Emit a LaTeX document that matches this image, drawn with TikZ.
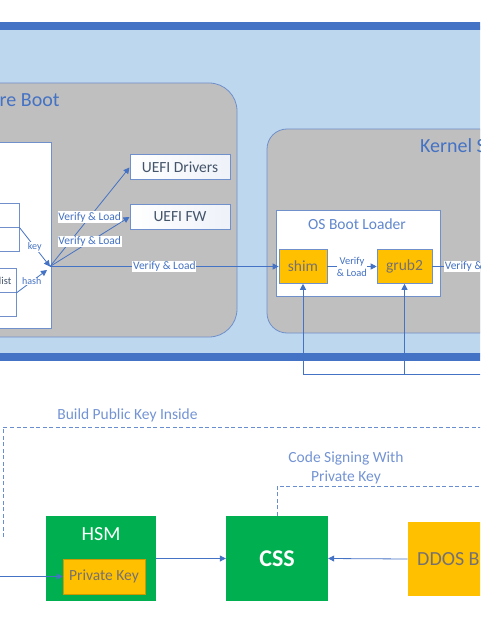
\documentclass[tikz,border=0pt]{standalone}
\usepackage{fontspec}
\setmainfont{Carlito}
\usetikzlibrary{arrows.meta,positioning}
\definecolor{band}{HTML}{4472C4}
\definecolor{light}{HTML}{BDD7EE}
\definecolor{grayf}{HTML}{BFBFBF}
\definecolor{bord}{HTML}{7090CC}
\definecolor{grn}{HTML}{00B050}
\definecolor{orng}{HTML}{FFC000}
\definecolor{txtg}{HTML}{767171}
\definecolor{txtu}{HTML}{44546A}
\definecolor{dtx}{HTML}{7393D3}
\tikzset{
  gbox/.style={draw=bord, fill=grayf, line width=0.8pt},
  wbox/.style={draw=bord, fill=white, line width=0.8pt},
  rowbox/.style={draw=bord, fill=white, line width=0.8pt, minimum height=24pt},
  uefi/.style={draw=bord, line width=1pt, left color=white, right color=white!88!bord,
    minimum width=100pt, minimum height=25pt, text=txtu, font=\fontsize{15.5}{18}\selectfont},
  ybox/.style={draw=bord, fill=orng, line width=0.6pt, text=txtg, font=\fontsize{15.5}{18}\selectfont},
  gnbox/.style={fill=grn, text=white},
  ttl/.style={text=band, inner sep=0pt, font=\fontsize{20}{24}\selectfont},
  line/.style={draw=band, line width=0.8pt},
  arr/.style={line, -{Triangle[length=6pt,width=6pt]}},
  lbl/.style={fill=white, inner sep=0.6pt, text=band, font=\fontsize{11.5}{13}\selectfont},
  klbl/.style={fill=white, inner sep=0.4pt, text=band, font=\fontsize{10}{12}\selectfont},
  dline/.style={draw=band!80, line width=0.9pt, dash pattern=on 4pt off 2.5pt},
  dtxt/.style={text=dtx, font=\fontsize{15.5}{19}\selectfont}
}
\begin{document}
\begin{tikzpicture}[x=1pt,y=-1pt]
\useasboundingbox (0,0) rectangle (480,617);
\clip (0,0) rectangle (480,617);

% blue frame
\draw[line width=8pt, draw=band, fill=light] (-20,26) rectangle (500,356.5);

% firmware side
\draw[gbox, rounded corners=28pt] (-40,83) rectangle (237,337);
\node[ttl, anchor=base west] (sbt) at (-0.5,106.5) {re Boot};
\draw[wbox] (-40,142) rectangle (51,328);
\node[rowbox, minimum width=60pt] (ka) at (-11,215) {};
\node[rowbox, minimum width=60pt] (kb) at (-11,239) {};
\node[rowbox, minimum width=56pt] (lc) at (-12,280.5) {};
\node[rowbox, minimum width=56pt] (ld) at (-12,304) {};
\node[anchor=base east, inner sep=0pt, text=txtu, font=\fontsize{10.5}{12}\selectfont] (lst) at (11.5,284.5) {list};

\node[uefi] (drv) at (180,167.5) {UEFI Drivers};
\node[uefi] (fw) at (180,217) {UEFI FW};

\coordinate (hub) at (50,266.5);
\coordinate (hubh) at (47,270);

% kernel side
\draw[gbox, rounded corners=20pt] (267,129) rectangle (520,333);
\node[ttl, anchor=base west] (kst) at (420,153) {Kernel S};
\draw[wbox] (276,210) rectangle (440,296);
\node[text=band!85, font=\fontsize{15.5}{18}\selectfont] (obl) at (357,224) {OS Boot Loader};
\node[ybox, minimum width=48pt, minimum height=34pt] (shim) at (303,266.5) {shim};
\node[ybox, minimum width=55pt, minimum height=34pt] (grub) at (404.5,266.5) {grub2};

% verify chain
\draw[arr] (ka.south east) -- node[klbl] {key} (hub);
\draw[arr] (lc.south east) -- node[klbl] {hash} (hubh);
\draw[arr] (hub) -- node[lbl] {Verify \& Load} (drv.west);
\draw[arr] (hub) -- node[lbl] {Verify \& Load} (fw.west);
\draw[arr] (hub) -- node[lbl] {Verify \& Load} (shim.west);
\draw[arr] (shim) -- node[klbl, align=center, font=\fontsize{10.5}{12}\selectfont] {Verify\\\& Load} (grub);
\coordinate (gr) at (500,266.5);
\draw[line] (grub.east) -- (gr);
\node[lbl, anchor=west] (vl4) at (444,266.5) {Verify \& Load};

\coordinate (rb) at (490,374.5);
\draw[line] (rb) -- (shim.south |- rb);
\foreach \n in {shim,grub}
    \draw[arr] (\n.south |- rb) -- (\n.south);

% signing side
\node[dtxt] (bpk) at (127.5,415) {Build Public Key Inside};
\coordinate (d1) at (3,537);
\coordinate (d2) at (490,427);
\draw[dline] (d1) |- (d2);

\node[gnbox, minimum width=110pt, minimum height=85pt] (hsm) at (101,558.5) {};
\node[text=white, font=\fontsize{20}{24}\selectfont] (hsmt) at (101,534) {HSM};
\node[ybox, draw=orng!80!black, line width=0.4pt, minimum width=82pt, minimum height=35pt] (pk) at (104,576.5) {Private Key};
\node[gnbox, minimum width=102pt, minimum height=85pt, font=\fontsize{24}{28}\selectfont\bfseries] (css) at (277,558.5) {CSS};
\node[ybox, draw=none, minimum width=112pt, minimum height=74pt] (ddos) at (464,559) {};
\node[anchor=west, inner sep=0pt, text=txtg, font=\fontsize{20}{24}\selectfont] (ddt) at (417,559) {DDOS B};

\node[dtxt, align=center] (csp) at (346,468) {Code Signing With\\Private Key};
\coordinate (d3) at (490,486);
\draw[dline] (css.north) |- (d3);

\coordinate (lin) at (-10,576.5);
\draw[arr] (lin) -- (pk.west);
\draw[arr] (hsm.east) -- (css.west);
\draw[arr] (ddos.west) -- (css.east);

\end{tikzpicture}
\end{document}
